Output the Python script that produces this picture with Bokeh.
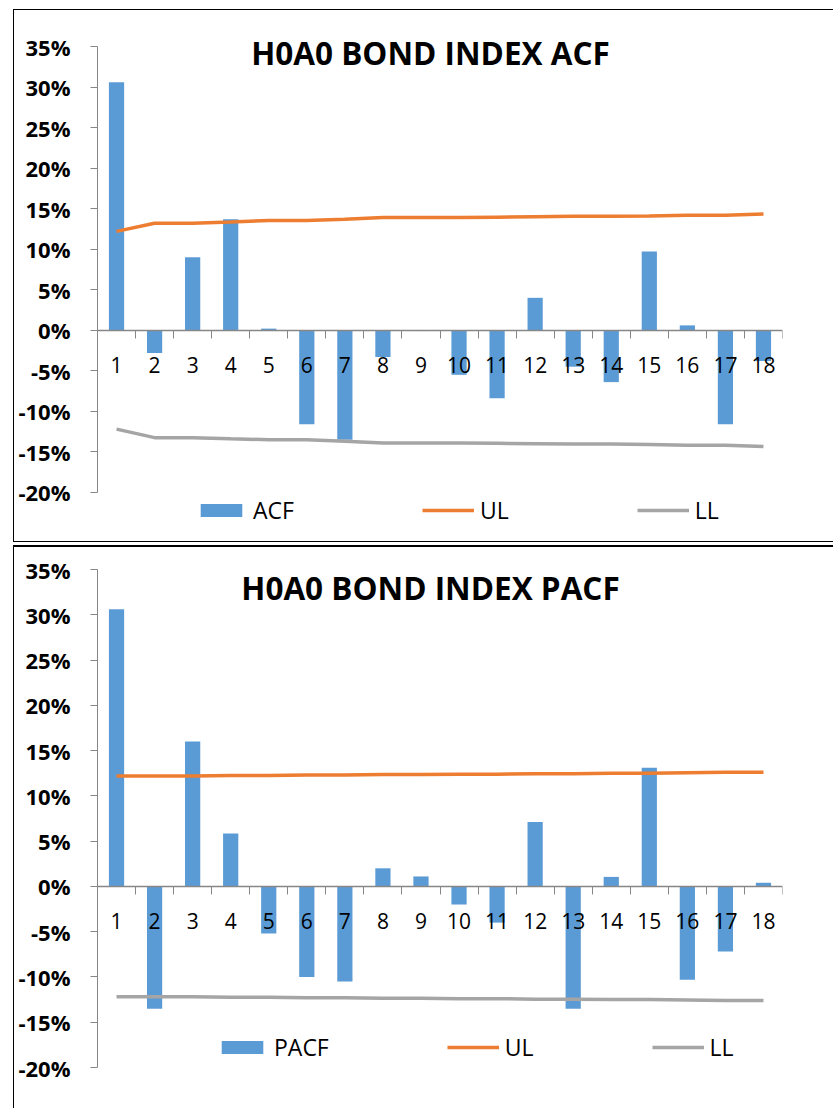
from bokeh.plotting import figure
from bokeh.layouts import column
from bokeh.models import (Range1d, FixedTicker, PrintfTickFormatter, Label, Legend, LegendItem)
from bokeh.embed import file_html
from bokeh.resources import INLINE

lags = list(range(1, 19))

acf = [30.6, -2.8, 9.0, 13.7, 0.2, -11.6, -13.5, -3.3, -0.1, -5.5, -8.4, 4.0, -4.5, -6.4, 9.7, 0.6, -11.6, -3.8]
acf_ul = [12.2, 13.2, 13.2, 13.35, 13.55, 13.55, 13.7, 13.9, 13.9, 13.9, 13.95, 14.0, 14.05, 14.05, 14.1, 14.2, 14.2, 14.35]
acf_ll = [-12.2, -13.25, -13.25, -13.4, -13.5, -13.5, -13.7, -13.9, -13.9, -13.9, -13.95, -14.0, -14.05, -14.05, -14.1, -14.2, -14.2, -14.35]

pacf = [30.6, -13.5, 16.0, 5.85, -5.2, -10.0, -10.5, 2.0, 1.1, -2.0, -4.0, 7.1, -13.5, 1.05, 13.1, -10.3, -7.2, 0.4]
pacf_ul = [12.2, 12.2, 12.2, 12.25, 12.25, 12.3, 12.3, 12.35, 12.35, 12.4, 12.4, 12.45, 12.45, 12.5, 12.5, 12.55, 12.6, 12.6]
pacf_ll = [-12.2, -12.2, -12.2, -12.25, -12.25, -12.3, -12.3, -12.35, -12.35, -12.4, -12.4, -12.45, -12.45, -12.5, -12.5, -12.55, -12.6, -12.6]

y_ticks = [-20, -15, -10, -5, 0, 5, 10, 15, 20, 25, 30, 35]

BLUE = "#5B9BD5"
ORANGE = "#ED7D31"
GRAY = "#A5A5A5"
AXIS = "#868686"
FONT = "Open Sans"


def make_chart(title, title_y, name, vals, ul, ll, height, frame_top, bottom_border,
               right_border, extra_bottom, extra_top, frame_h, legend_loc, spacing,
               margin, border_styles):
    # extra_bottom / extra_top: room (px) kept inside the plot area beyond the axis
    # bounds, so the legend and the title are not clipped
    px_per_unit = (frame_h - extra_bottom - extra_top) / (y_ticks[-1] - y_ticks[0])
    p = figure(width=820, height=height, output_backend="svg", toolbar_location=None,
               x_range=Range1d(0.5, 18.5),
               y_range=Range1d(y_ticks[0] - extra_bottom / px_per_unit,
                               y_ticks[-1] + extra_top / px_per_unit),
               min_border_left=83, min_border_right=right_border,
               min_border_top=frame_top, min_border_bottom=bottom_border,
               margin=margin)
    p.styles = border_styles
    p.grid.visible = False
    p.outline_line_color = None
    p.background_fill_color = "white"
    p.border_fill_color = "white"

    r_bar = p.vbar(x=lags, top=vals, width=0.4, fill_color=BLUE, line_color=None)
    r_ul = p.line(lags, ul, line_color=ORANGE, line_width=3.5)
    r_ll = p.line(lags, ll, line_color=GRAY, line_width=3.5)

    xa = p.xaxis[0]
    xa.fixed_location = 0
    xa.ticker = FixedTicker(ticks=lags, minor_ticks=[i + 0.5 for i in range(0, len(lags) + 1)])
    xa.major_tick_out = 0
    xa.major_tick_in = 0
    xa.minor_tick_out = 8
    xa.minor_tick_in = 0
    xa.minor_tick_line_color = AXIS
    xa.axis_line_color = AXIS
    xa.axis_line_width = 1.5
    xa.major_label_standoff = 19
    xa.major_label_text_font = FONT
    xa.major_label_text_font_size = "21px"
    xa.major_label_text_color = "black"

    ya = p.yaxis[0]
    ya.ticker = FixedTicker(ticks=y_ticks)
    ya.bounds = (y_ticks[0], y_ticks[-1])
    ya.formatter = PrintfTickFormatter(format="%d%%")
    ya.major_tick_out = 7
    ya.major_tick_in = 0
    ya.minor_tick_out = 0
    ya.minor_tick_in = 0
    ya.major_tick_line_color = AXIS
    ya.axis_line_color = AXIS
    ya.major_label_standoff = 20
    ya.major_label_text_font = FONT
    ya.major_label_text_font_style = "bold"
    ya.major_label_text_font_size = "22px"
    ya.major_label_text_color = "black"

    lab = Label(x=333, y=title_y, x_units="screen", y_units="screen", text=title,
                text_align="center", text_baseline="alphabetic", text_font=FONT,
                text_font_style="bold", text_font_size="31.5px", text_color="black")
    p.add_layout(lab)

    legend = Legend(items=[LegendItem(label=name, renderers=[r_bar]),
                           LegendItem(label="UL", renderers=[r_ul]),
                           LegendItem(label="LL", renderers=[r_ll])],
                    orientation="horizontal", location=legend_loc, spacing=spacing,
                    glyph_width=52, glyph_height=16, label_standoff=6,
                    label_text_font=FONT, label_text_font_size="23px", label_text_color="black",
                    padding=0, margin=0, border_line_color=None, background_fill_alpha=0)
    p.add_layout(legend, "center")
    return p


p1 = make_chart("H0A0 BOND INDEX ACF", 479.6, "ACF", acf, acf_ul, acf_ll,
                height=533, frame_top=21, bottom_border=11, right_border=44,
                extra_bottom=40, extra_top=15, frame_h=499,
                legend_loc=(98, 6.5), spacing=128, margin=(9, 0, 0, 13),
                border_styles={"border-top": "1px solid #000", "border-left": "1px solid #000",
                               "border-bottom": "1px solid #000"})
p2 = make_chart("H0A0 BOND INDEX PACF", 480, "PACF", pacf, pacf_ul, pacf_ll,
                height=563, frame_top=22, bottom_border=43, right_border=52,
                extra_bottom=0, extra_top=0, frame_h=496,
                legend_loc=(119, 4), spacing=118, margin=(3, 0, 0, 13),
                border_styles={"border-top": "2px solid #000", "border-left": "1px solid #000"})

layout = column(p1, p2, spacing=0)
open("out.html", "w").write(file_html(layout, INLINE))
